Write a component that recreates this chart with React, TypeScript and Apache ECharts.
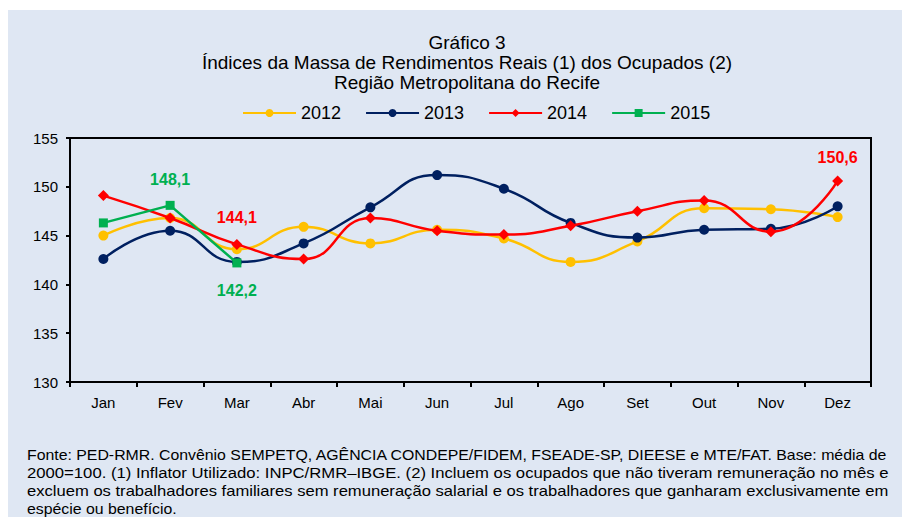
import React, { useEffect, useRef } from "react";
import * as echarts from "echarts";

const months = ["Jan", "Fev", "Mar", "Abr", "Mai", "Jun", "Jul", "Ago", "Set", "Out", "Nov", "Dez"];
const s2012 = [145.0, 146.8, 143.6, 145.9, 144.2, 145.6, 144.7, 142.3, 144.4, 147.8, 147.7, 146.9];
const s2013 = [142.6, 145.5, 142.3, 144.2, 147.9, 151.2, 149.8, 146.3, 144.8, 145.6, 145.7, 148.0];
const s2014 = [149.1, 146.8, 144.1, 142.6, 146.8, 145.5, 145.1, 146.0, 147.5, 148.6, 145.4, 150.6];
const s2015 = [146.3, 148.1, 142.2];
const yTicks = [130, 135, 140, 145, 150, 155];

const titleLines = [
  "Gráfico 3",
  "Índices da Massa de Rendimentos Reais (1) dos Ocupados (2)",
  "Região Metropolitana do Recife",
];
const footLines = [
  "Fonte: PED-RMR. Convênio SEMPETQ, AGÊNCIA CONDEPE/FIDEM, FSEADE-SP, DIEESE e MTE/FAT. Base: média de",
  "2000=100. (1) Inflator Utilizado: INPC/RMR–IBGE. (2) Incluem os ocupados que não tiveram remuneração no mês e",
  "excluem os trabalhadores familiares sem remuneração salarial e os trabalhadores que ganharam exclusivamente em",
  "espécie ou benefício.",
];

const FONT = "'Liberation Sans', Arial, sans-serif";
const fmt = (v: number) => v.toFixed(1).replace(".", ",");

export default function App() {
  const ref = useRef<HTMLDivElement>(null);
  useEffect(() => {
    if (!ref.current) return;
    const chart = echarts.init(ref.current, null, { renderer: "svg" });
    const lbl = (color: string, position: string, distance: number) => ({
      show: true,
      position,
      distance,
      color,
      fontWeight: "bold",
      fontSize: 16,
      fontFamily: FONT,
      formatter: (p: any) => fmt(p.value),
    });
    const d2014 = s2014.map((v, i) =>
      i === 2 ? { value: v, label: lbl("#FF0000", "top", 13) } : i === 11 ? { value: v, label: lbl("#FF0000", "top", 10) } : v
    );
    const d2015 = s2015.map((v, i) =>
      i === 1 ? { value: v, label: lbl("#00B050", "top", 13) } : i === 2 ? { value: v, label: lbl("#00B050", "bottom", 15) } : v
    );

    const footSize = 14;
    const footWidth = 862;
    const fontStr = `${footSize}px ${FONT}`;
    const widths = footLines.map((t) => echarts.format.getTextRect(t, fontStr).width);
    const lineScale = footWidth / widths[0];

    const graphics: any[] = [
      { type: "rect", z: -10, silent: true, shape: { x: 0, y: 2, width: 902, height: 507 }, style: { fill: "#DFE7F3" } },
    ];
    titleLines.forEach((t, i) => {
      graphics.push({
        type: "text",
        x: 459,
        y: 34 + i * 20,
        style: { text: t, fontSize: 19, fontFamily: FONT, fill: "#000", textAlign: "center", textVerticalAlign: "middle" },
      });
    });
    footLines.forEach((t, i) => {
      const sx = i < 3 ? footWidth / widths[i] : lineScale;
      graphics.push({
        type: "text",
        x: 19,
        y: 447 + i * 18,
        scaleX: sx,
        style: { text: t, fontSize: footSize, fontFamily: FONT, fill: "#000", textAlign: "left", textVerticalAlign: "middle" },
      });
    });
    chart.setOption({
      animation: false,
      backgroundColor: "transparent",
      textStyle: { fontFamily: FONT },
      graphic: graphics,
      legend: {
        top: 91,
        left: 229,
        itemWidth: 53,
        itemHeight: 10,
        itemGap: 24,
        textStyle: { fontSize: 18, color: "#000", fontFamily: FONT },
        data: ["2012", "2013", "2014", "2015"],
      },
      grid: {
        left: 62,
        right: 39,
        top: 130,
        height: 244,
        show: true,
        borderColor: "#000",
        borderWidth: 2,
        backgroundColor: "transparent",
      },
      xAxis: {
        type: "category",
        data: months,
        boundaryGap: true,
        axisLine: { lineStyle: { color: "#000", width: 2 } },
        axisTick: { show: true, length: 5, lineStyle: { color: "#000", width: 2 } },
        axisLabel: { fontSize: 15, color: "#000", margin: 13, fontFamily: FONT },
      },
      yAxis: {
        type: "value",
        min: yTicks[0],
        max: yTicks[yTicks.length - 1],
        interval: 5,
        splitLine: { show: false },
        axisLine: { show: true, lineStyle: { color: "#000", width: 2 } },
        axisTick: { show: true, length: 4, lineStyle: { color: "#000", width: 2 } },
        axisLabel: { fontSize: 15, color: "#000", margin: 12, fontFamily: FONT },
      },
      series: [
        {
          name: "2012",
          type: "line",
          data: s2012,
          smooth: true,
          symbol: "circle",
          symbolSize: 10,
          color: "#FFC000",
          lineStyle: { width: 2.5, color: "#FFC000" },
          itemStyle: { color: "#FFC000" },
          z: 2,
        },
        {
          name: "2013",
          type: "line",
          data: s2013,
          smooth: true,
          symbol: "circle",
          symbolSize: 10,
          color: "#002060",
          lineStyle: { width: 2.5, color: "#002060" },
          itemStyle: { color: "#002060" },
          z: 3,
        },
        {
          name: "2014",
          type: "line",
          data: d2014,
          smooth: true,
          symbol: "diamond",
          symbolSize: 11,
          color: "#FF0000",
          lineStyle: { width: 2.5, color: "#FF0000" },
          itemStyle: { color: "#FF0000" },
          z: 4,
        },
        {
          name: "2015",
          type: "line",
          data: d2015,
          smooth: false,
          symbol: "rect",
          symbolSize: 9,
          color: "#00B050",
          lineStyle: { width: 2.5, color: "#00B050" },
          itemStyle: { color: "#00B050" },
          z: 5,
        },
      ],
    });
    return () => chart.dispose();
  }, []);
  return <div ref={ref} style={{ width: 902, height: 509 }} />;
}
